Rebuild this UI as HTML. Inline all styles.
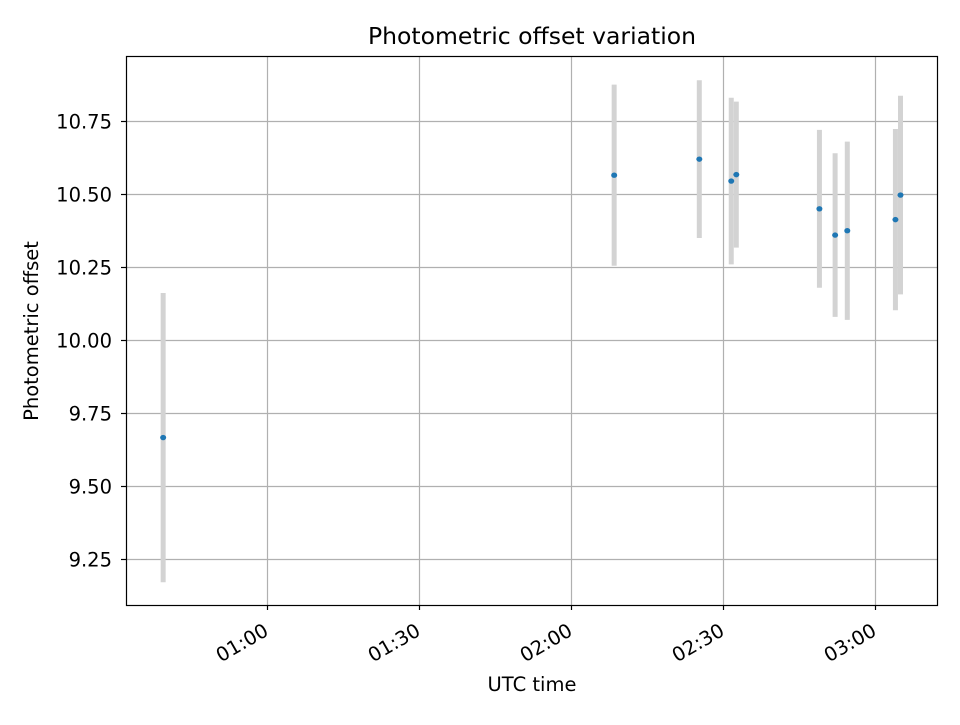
<!DOCTYPE html>
<html><head><meta charset="utf-8"><style>
body{margin:0;background:#fff;}
svg text{font-family:"DejaVu Sans","Liberation Sans",sans-serif;fill:#000;}
</style></head><body>
<svg id="chart" width="960" height="720" xmlns="http://www.w3.org/2000/svg">
<rect width="960" height="720" fill="#fff"/>
<text x="532" y="44" font-size="23.5" text-anchor="middle">Photometric offset variation</text>
<g id="grid"></g><g id="marks"></g><g id="axes"></g>
<text x="532" y="691" font-size="19.5" text-anchor="middle">UTC time</text>
<text transform="translate(38,331) rotate(-90)" font-size="19.5" text-anchor="middle">Photometric offset</text>
</svg>
<script>
// time in minutes after 00:00 UTC
const times = [39.5, 128.5, 145.3, 151.6, 152.6, 169.0, 172.1, 174.5, 184.0, 185.0];
const offsets = [9.667, 10.565, 10.62, 10.545, 10.567, 10.45, 10.36, 10.375, 10.413, 10.497];
const errors = [0.495, 0.31, 0.27, 0.285, 0.25, 0.27, 0.28, 0.305, 0.31, 0.34];
const xTicks = [60, 90, 120, 150, 180];
const xTickLabels = ["01:00", "01:30", "02:00", "02:30", "03:00"];
const yTicks = [9.25, 9.5, 9.75, 10.0, 10.25, 10.5, 10.75];
const yTickLabels = ["9.25", "9.50", "9.75", "10.00", "10.25", "10.50", "10.75"];

const L=126,R=938,T=56,B=605;
const xMin=32.17,xMax=192.4,yMin=9.094,yMax=10.973;
const xs=m=>L+(m-xMin)/(xMax-xMin)*(R-L);
const ys=v=>B-(v-yMin)/(yMax-yMin)*(B-T);
const NS="http://www.w3.org/2000/svg";
function mk(tag,attrs,parent){const e=document.createElementNS(NS,tag);for(const k in attrs)e.setAttribute(k,attrs[k]);parent.appendChild(e);return e;}
const grid=document.getElementById('grid'),marks=document.getElementById('marks'),axes=document.getElementById('axes');

xTicks.forEach((t,i)=>{
  const x=Math.round(xs(t))+0.5;
  const g=mk('line',{x1:x,x2:x,y1:T,y2:B,stroke:'#b0b0b0','stroke-width':1.2},grid);
  
  
  mk('line',{x1:x,x2:x,y1:B,y2:B+5,stroke:'#000','stroke-width':1.2},axes);
  const ax=x-5, ay=B+17;
  const tx=mk('text',{x:ax,y:ay,'font-size':19.5,'text-anchor':'end','dominant-baseline':'hanging',transform:`rotate(-30 ${ax} ${ay})`},axes);
  
  
  tx.textContent=xTickLabels[i];
});
yTicks.forEach((t,i)=>{
  const y=Math.round(ys(t))+0.5;
  const g=mk('line',{x1:L,x2:R,y1:y,y2:y,stroke:'#b0b0b0','stroke-width':1.2},grid);
  
  
  mk('line',{x1:L-5,x2:L,y1:y,y2:y,stroke:'#000','stroke-width':1.2},axes);
  const tx=mk('text',{x:L-14,y:y+7,'font-size':19.5,'text-anchor':'end'},axes);
  
  
  tx.textContent=yTickLabels[i];
});
times.forEach((t,i)=>{
  const x=xs(t);
  const eb=mk('line',{x1:x,x2:x,y1:ys(offsets[i]-errors[i]),y2:ys(offsets[i]+errors[i]),stroke:'#d3d3d3','stroke-width':5},marks);
  
  
});
times.forEach((t,i)=>{
  const p=mk('ellipse',{cx:xs(t),cy:ys(offsets[i]),rx:3,ry:2.7,fill:'#1f77b4'},marks);
  
  
});
const fr=mk('rect',{x:L+0.5,y:T+0.5,width:R-L-1,height:B-T,fill:'none',stroke:'#000','stroke-width':1.2},axes);


</script>
</body></html>
